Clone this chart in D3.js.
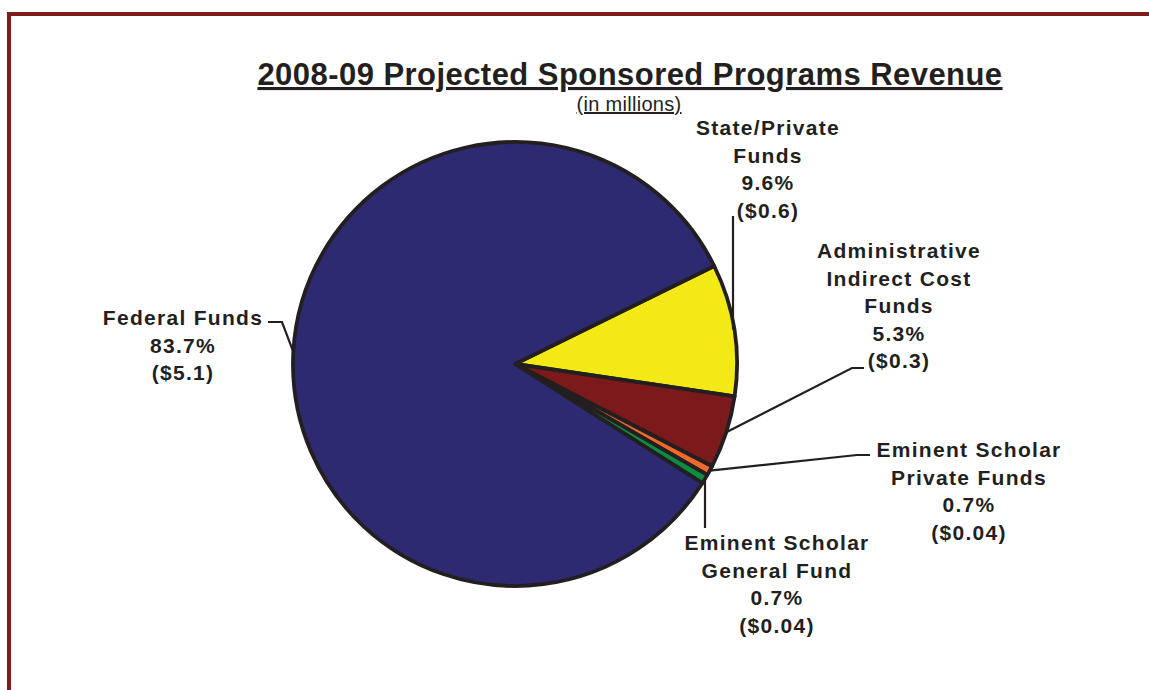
<!DOCTYPE html>
<html>
<head>
<meta charset="utf-8">
<script src="https://cdn.jsdelivr.net/npm/d3@7"></script>
<style>
  html, body { margin: 0; padding: 0; background: #fff; }
  svg { display: block; }
</style>
</head>
<body>
<svg id="chart" width="1149" height="690"></svg>
<script>
// Revenue sources, in clockwise drawing order
const sources = ["State/Private Funds", "Administrative Indirect Cost Funds",
  "Eminent Scholar Private Funds", "Eminent Scholar General Fund", "Federal Funds"];
const percents = [9.6, 5.3, 0.7, 0.7, 83.7];
const dollars = ["($0.6)", "($0.3)", "($0.04)", "($0.04)", "($5.1)"];
const labelLines = [
  ["State/Private", "Funds"],
  ["Administrative", "Indirect Cost", "Funds"],
  ["Eminent Scholar", "Private Funds"],
  ["Eminent Scholar", "General Fund"],
  ["Federal Funds"]
];
const colors = ["#f3e916", "#7c1a1b", "#f26a2a", "#0e8a43", "#2e2a71"];

const svg = d3.select("#chart");
const ink = "#231f20";
const font = "'Liberation Sans', Arial, sans-serif";

// Frame: top and left rules
const frame = "#7d1b1e";
svg.append("rect").attr("x", 7).attr("y", 12).attr("width", 1142).attr("height", 4).attr("fill", frame);
svg.append("rect").attr("x", 7).attr("y", 12).attr("width", 4).attr("height", 678).attr("fill", frame);

// Title
svg.append("text")
  .attr("x", 630).attr("y", 85)
  .attr("text-anchor", "middle")
  .attr("font-family", font)
  .attr("font-weight", "bold")
  .attr("font-size", 31)
  .attr("letter-spacing", 0.45)
  .attr("text-decoration", "underline")
  .attr("fill", ink)
  .text("2008-09 Projected Sponsored Programs Revenue");

svg.append("text")
  .attr("x", 629).attr("y", 111)
  .attr("text-anchor", "middle")
  .attr("font-family", font)
  .attr("font-size", 20)
  .attr("letter-spacing", 0.3)
  .attr("text-decoration", "underline")
  .attr("fill", ink)
  .text("(in millions)");

// Pie
const cx = 515, cy = 364, r = 222;
const deg = Math.PI / 180;
const pie = d3.pie().sort(null).value(d => d)
  .startAngle(63.8 * deg).endAngle((63.8 + 360) * deg);
const arcs = pie(percents);
const arc = d3.arc().innerRadius(0).outerRadius(r);
const rim = d3.arc().innerRadius(r).outerRadius(r);

const g = svg.append("g").attr("transform", `translate(${cx},${cy})`);
g.selectAll("path.slice")
  .data(arcs)
  .join("path")
  .attr("class", "slice")
  .attr("d", arc)
  .attr("fill", (d, i) => colors[i])
  .attr("stroke", ink)
  .attr("stroke-width", 3.8)
  .attr("stroke-linejoin", "round");

// Label layout: block centre x, first baseline y, leader elbow points
const labelPos = [
  { x: 768, y: 135, leader: [[733, 216]] },
  { x: 899, y: 258, leader: [[864, 368], [852, 368]] },
  { x: 969, y: 457, leader: [[870, 455], [857, 455]] },
  { x: 777, y: 550, leader: [[705, 528]] },
  { x: 183, y: 325, leader: [[268, 322], [282, 322]] }
];
const lineH = 27.5;

arcs.forEach((a, i) => {
  const pos = labelPos[i];
  const end = rim.centroid(a);
  const pts = pos.leader.concat([[cx + end[0], cy + end[1]]]);
  // vertical leaders keep the x of their top point
  if (pos.leader.length === 1) pts[1] = [pos.leader[0][0], pts[1][1]];
  svg.append("path")
    .attr("d", d3.line()(pts))
    .attr("fill", "none")
    .attr("stroke", ink)
    .attr("stroke-width", 2.2);

  const lines = labelLines[i].concat([percents[i].toFixed(1) + "%", dollars[i]]);
  const t = svg.append("text")
    .attr("text-anchor", "middle")
    .attr("font-family", font)
    .attr("font-weight", "bold")
    .attr("font-size", 21)
    .attr("letter-spacing", 1.3)
    .attr("fill", ink);
  lines.forEach((s, k) => {
    t.append("tspan").attr("x", pos.x).attr("y", pos.y + k * lineH).text(s);
  });
});
</script>
</body>
</html>
